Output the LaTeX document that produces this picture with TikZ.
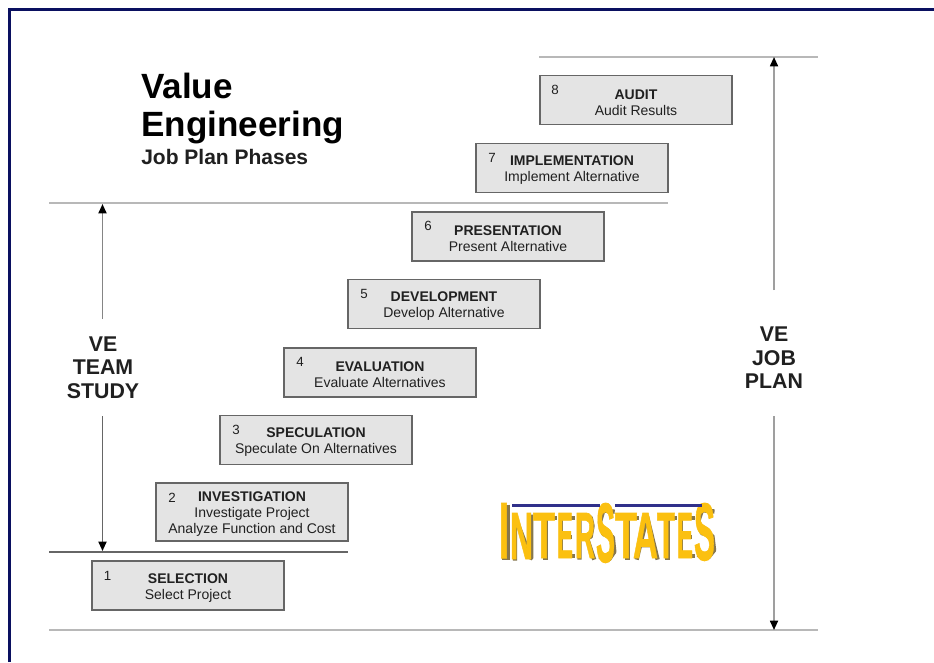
\documentclass[tikz,border=0pt]{standalone}
\usepackage{fontspec}
\setmainfont{Liberation Sans}
\newfontfamily\logofont[UprightFont=* Bold,FakeBold=1.2]{Liberation Sans}
\usetikzlibrary{arrows.meta}
\definecolor{navy}{HTML}{0A1060}
\definecolor{boxfill}{HTML}{E4E4E4}
\definecolor{boxline}{HTML}{666666}
\definecolor{rulelight}{HTML}{B8B8B8}
\definecolor{ink}{HTML}{202020}
\definecolor{logoyellow}{HTML}{FBC010}
\definecolor{logoshade}{HTML}{85764E}
\definecolor{logoblue}{HTML}{30308A}
\newcommand{\phasetitle}[1]{\rule{0pt}{10.6pt}\textbf{#1}}
\tikzset{
  phase/.style={draw=boxline,fill=boxfill,line width=1.1pt,minimum width=144pt,minimum height=36.5pt,
    inner sep=0pt,align=center,text=ink,font=\fontsize{10.5}{12}\selectfont},
  phasenum/.style={text=ink,inner sep=0pt,font=\fontsize{10}{12}\selectfont},
  rulelt/.style={draw=rulelight,line width=1.5pt},
  ruledk/.style={draw=boxline,line width=1.3pt},
  span/.style={draw=#1,line width=1.3pt,-{Triangle[length=7pt,width=6pt,color=black]}},
  biglabel/.style={align=center,text=ink,inner sep=0pt,font=\fontsize{16}{17.6}\selectfont\bfseries},
  heading/.style={anchor=base west,inner sep=0pt,text=black,font=\fontsize{26.3}{28}\selectfont\bfseries},
  subheading/.style={anchor=base west,inner sep=0pt,text=ink,font=\fontsize{15.75}{18}\selectfont\bfseries},
  logoglyph/.style={anchor=north west,inner sep=0pt,outer sep=0pt}
}
% left x, right x, top y, bottom y (pixels), letter, shadow strokes in the unit square
\newcommand{\logoletter}[7][3.2pt]{%
  \pgfmathsetlengthmacro{\lw}{(#3-#2)*0.75pt}%
  \pgfmathsetlengthmacro{\lh}{(#5-#4)*0.75pt}%
  \begin{scope}[shift={(#2+1.6,#4+1.6)},x=\lw,y=-\lh]
    \draw[logoshade,line width=#1,line join=round,line cap=butt] #7;
  \end{scope}
  \node[logoglyph,text=logoyellow] at (#2,#4) {\resizebox{\lw}{\lh}{\logofont #6}};
}
\begin{document}
\begin{tikzpicture}[x=0.75pt,y=-0.75pt]
\useasboundingbox (0,0) rectangle (934,662);
\fill[white] (0,0) rectangle (934,662);
% frame
\coordinate (frameBL) at (9.5,662);
\coordinate (frameTL) at (9.5,9.5);
\coordinate (frameTR) at (934,9.5);
\draw[navy,line width=2.2pt] (frameBL) -- (frameTL) -- (frameTR);

% rules
\coordinate (r1a) at (539,56.5); \coordinate (r1b) at (818,56.5);
\coordinate (r2a) at (49,203);   \coordinate (r2b) at (668,203);
\coordinate (r3a) at (49,552);   \coordinate (r3b) at (348,552);
\coordinate (r4a) at (49,630);   \coordinate (r4b) at (818,630);
\draw[rulelt] (r1a) -- (r1b);
\draw[rulelt] (r2a) -- (r2b);
\draw[ruledk] (r3a) -- (r3b);
\draw[rulelt] (r4a) -- (r4b);

% title
\node[heading] (t1) at (141,98) {Value};
\node[heading] (t2) at (141,136) {Engineering};
\node[subheading] (t3) at (141,164) {Job Plan Phases};

% phases
\node[phase] (p1) at (188,585.5) {\phasetitle{SELECTION}\\Select Project};
\node[phase,minimum height=43.5pt] (p2) at (252,512) {\phasetitle{INVESTIGATION}\\Investigate Project\\Analyze Function and Cost};
\node[phase] (p3) at (316,440) {\phasetitle{SPECULATION}\\Speculate On Alternatives};
\node[phase] (p4) at (380,372.5) {\phasetitle{EVALUATION}\\Evaluate Alternatives};
\node[phase] (p5) at (444,304) {\phasetitle{DEVELOPMENT}\\Develop Alternative};
\node[phase] (p6) at (508,236.5) {\phasetitle{PRESENTATION}\\Present Alternative};
\node[phase] (p7) at (572,168) {\phasetitle{IMPLEMENTATION}\\Implement Alternative};
\node[phase] (p8) at (636,100) {\phasetitle{AUDIT}\\Audit Results};
\node[phasenum] (n1) at (107.5,576) {1};
\node[phasenum] (n2) at (172,498) {2};
\node[phasenum] (n3) at (236,430) {3};
\node[phasenum] (n4) at (300,362) {4};
\node[phasenum] (n5) at (364,294) {5};
\node[phasenum] (n6) at (428,226) {6};
\node[phasenum] (n7) at (492,158) {7};
\node[phasenum] (n8) at (555,90) {8};

% spans
\node[biglabel] (team) at (103,367.5) {VE\\TEAM\\STUDY};
\node[biglabel] (job) at (774,358) {VE\\JOB\\PLAN};
\coordinate (teamtop) at (102.5,319); \coordinate (teamtip) at (102.5,204);
\coordinate (teambot) at (102.5,416); \coordinate (teamend) at (102.5,551);
\coordinate (jobtop) at (774,290);    \coordinate (jobtip) at (774,57);
\coordinate (jobbot) at (774,416);    \coordinate (jobend) at (774,630);
\draw[span=boxline!80] (teamtop) -- (teamtip);
\draw[span=boxline] (teambot) -- (teamend);
\draw[span=gray!75] (jobtop) -- (jobtip);
\draw[span=gray!75] (jobbot) -- (jobend);

% logo
\logoletter[6pt]{499}{509}{503}{558}{I}{(0.5,0)--(0.5,1)}
\logoletter{510}{533}{513}{559}{N}{(.15,1)--(.15,.05)--(.85,.95)--(.85,0)}
\logoletter{533}{555}{513}{558}{T}{(0,.08)--(1,.08) (.5,.08)--(.5,1)}
\logoletter{557}{573}{513}{558}{E}{(1,.08)--(.15,.08)--(.15,.92)--(1,.92) (.15,.5)--(.85,.5)}
\logoletter{575}{595}{513}{558}{R}{(.15,1)--(.15,.06)--(.7,.06)--(.8,.25)--(.7,.5)--(.15,.5) (.5,.5)--(.88,1)}
\logoletter{596}{615}{503}{562}{S}{(.9,.12)--(.3,.1)--(.12,.3)--(.3,.5)--(.8,.55)--(.88,.8)--(.6,.93)--(.08,.88)}
\logoletter{615}{637}{513}{558}{T}{(0,.08)--(1,.08) (.5,.08)--(.5,1)}
\logoletter{633}{658}{513}{558}{A}{(.08,1)--(.5,.05)--(.92,1) (.25,.68)--(.75,.68)}
\logoletter{657}{675}{513}{558}{T}{(0,.08)--(1,.08) (.5,.08)--(.5,1)}
\logoletter{677}{693}{513}{558}{E}{(1,.08)--(.15,.08)--(.15,.92)--(1,.92) (.15,.5)--(.85,.5)}
\logoletter{694}{715}{503}{560}{S}{(.9,.12)--(.3,.1)--(.12,.3)--(.3,.5)--(.8,.55)--(.88,.8)--(.6,.93)--(.08,.88)}
\coordinate (b1a) at (512,505.5); \coordinate (b1b) at (600,505.5);
\coordinate (b2a) at (615,505.5); \coordinate (b2b) at (702,505.5);
\draw[logoblue,line width=1.9pt] (b1a) -- (b1b);
\draw[logoblue,line width=1.9pt] (b2a) -- (b2b);
\end{tikzpicture}
\end{document}
